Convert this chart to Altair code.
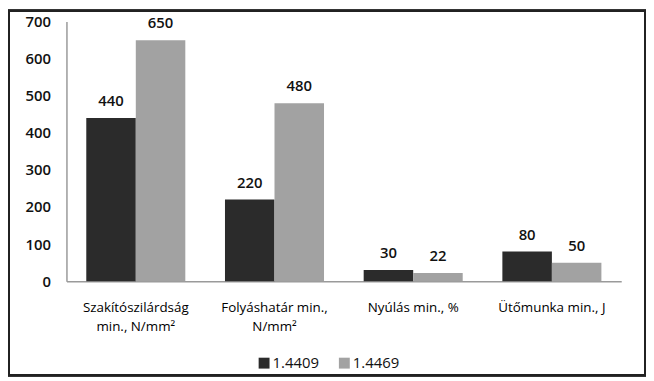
import altair as alt
import pandas as pd

categories = ["Szakítószilárdság\nmin., N/mm²", "Folyáshatár min.,\nN/mm²", "Nyúlás min., %", "Ütőmunka min., J"]
series = ["1.4409", "1.4469"]
values_14409 = [440, 220, 30, 80]
values_14469 = [650, 480, 22, 50]
colors = ["#2b2b2b", "#a2a2a2"]

rows = []
for c, a, b in zip(categories, values_14409, values_14469):
    rows.append({"cat": c, "series": series[0], "val": a})
    rows.append({"cat": c, "series": series[1], "val": b})
df = pd.DataFrame(rows)

FONT = "Open Sans"

x = alt.X("cat:N", sort=categories, title=None,
          scale=alt.Scale(paddingInner=0.286, paddingOuter=0.143),
          axis=alt.Axis(labelAngle=0, labelExpr="split(datum.label, '\\n')",
                        labelLineHeight=19, labelPadding=20, ticks=False,
                        domainColor="#9a9a9a", domainWidth=1.5,
                        labelFontSize=13.5, labelColor="#000", labelFont=FONT))
y = alt.Y("val:Q", title=None,
          scale=alt.Scale(domain=[0, 700]),
          axis=alt.Axis(values=list(range(0, 701, 100)), grid=False, ticks=False,
                        domainColor="#9a9a9a", domainWidth=1.5, labelPadding=16,
                        labelFontSize=15, labelFontWeight=600, labelColor="#111",
                        labelFont=FONT))
xoff = alt.XOffset("series:N", sort=series, scale=alt.Scale(paddingInner=0))

bars = alt.Chart(df).mark_bar().encode(
    x=x, y=y, xOffset=xoff,
    color=alt.Color("series:N", sort=series,
                    scale=alt.Scale(domain=series, range=colors),
                    legend=alt.Legend(title=None, orient="none", direction="horizontal",
                                      legendX=192, legendY=337, symbolType="square",
                                      symbolSize=121, symbolStrokeWidth=0,
                                      labelFontSize=15, labelFont=FONT, labelColor="#111",
                                      columnPadding=18, labelOffset=1)),
)

labels = alt.Chart(df).mark_text(baseline="alphabetic", dy=-12, fontSize=15,
                                 fontWeight=600, font=FONT, color="#111").encode(
    x=x, y=y, xOffset=xoff, text=alt.Text("val:Q"))

border = alt.Chart(df).mark_rect(fill=None, stroke="#222", strokeWidth=2).encode(
    x=alt.value(-58), x2=alt.value(584), y=alt.value(-11), y2=alt.value(357))

chart = alt.layer(bars, labels, border).properties(
    width=560, height=262,
    padding={"left": 59, "top": 12, "right": 25, "bottom": 95},
    autosize=alt.AutoSizeParams(type="none"),
    background="white",
).configure_view(stroke=None)

chart.save("out.html", embed_options={"renderer": "svg", "actions": False})
